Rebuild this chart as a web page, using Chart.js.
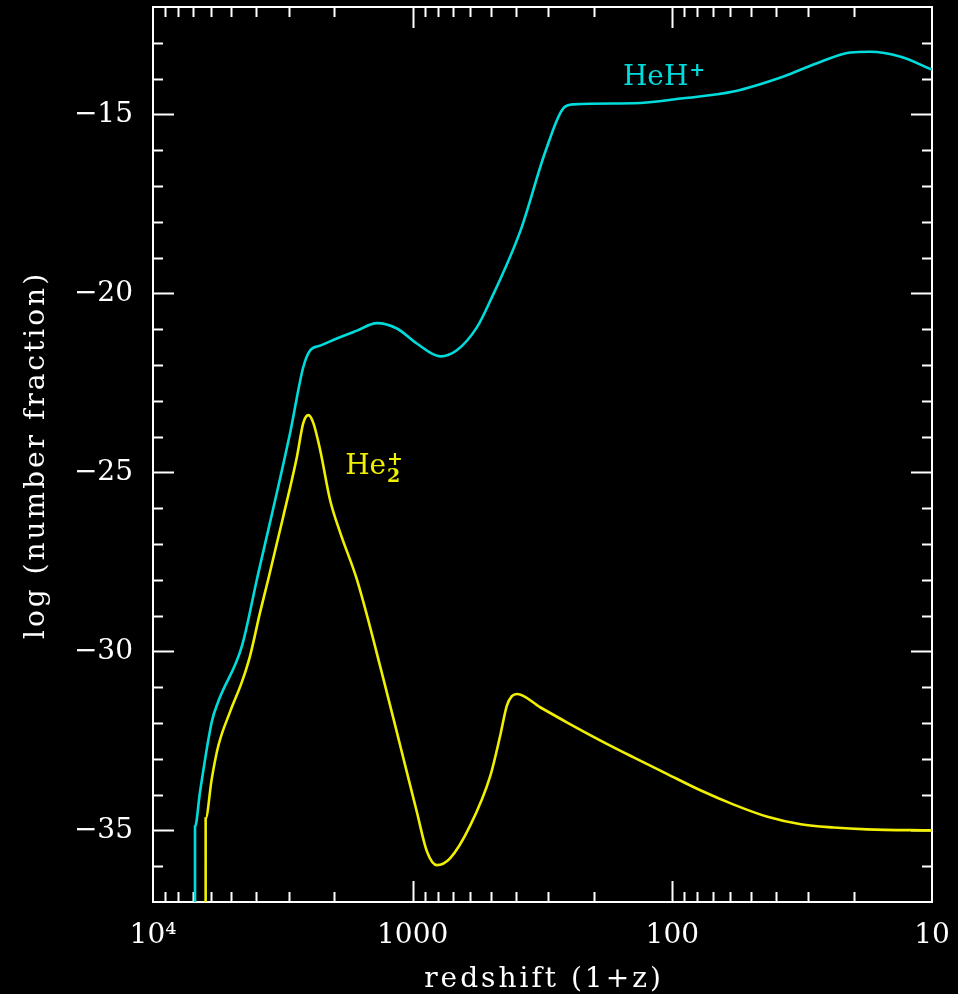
<!DOCTYPE html>
<html>
<head>
<meta charset="utf-8">
<script src="https://cdn.jsdelivr.net/npm/chart.js@4.4.1/dist/chart.umd.min.js"></script>
<style>
  html, body { margin: 0; padding: 0; background: #000; }
  #wrap { width: 958px; height: 994px; }
</style>
</head>
<body>
<div id="wrap"><canvas id="fracChart" width="958" height="994"></canvas></div>
<script>
// HeH+ abundance vs redshift (1+z)
const heHRedshift = [6890, 6890, 6590, 5940, 5620, 4550, 3980, 2965, 2640, 2480,
  2270, 1960, 1640, 1375, 1150, 964, 783, 676, 566, 502,
  385, 308, 263, 240, 141, 90.8, 58.2, 37.3, 27.7, 20.6,
  17.3, 13.2, 10];
const heHLogFrac = [-40, -34.9, -33.92, -31.97, -31.42, -29.86, -27.99, -23.9, -22.07, -21.59,
  -21.46, -21.26, -21.04, -20.83, -20.98, -21.4, -21.76, -21.59, -20.95, -20.2,
  -18.26, -16.03, -14.83, -14.72, -14.69, -14.55, -14.36, -13.94, -13.57, -13.27,
  -13.25, -13.39, -13.75];

// He2+ abundance vs redshift (1+z)
const he2Redshift = [6270, 6270, 5940, 5600, 5050, 4550, 4230, 3870, 3600, 3150,
  2790, 2640, 2520, 2410, 2270, 2080, 1900, 1640, 1295, 1117,
  964, 881, 807, 718, 600, 502, 460, 434, 415, 396,
  323, 255, 189, 141, 105, 78, 58, 43, 32, 23.9,
  17.8, 10];
const he2LogFrac = [-40, -34.67, -33.56, -32.63, -31.69, -30.86, -30.13, -28.91, -27.99, -26.23,
  -24.56, -23.63, -23.4, -23.63, -24.38, -25.77, -26.69, -27.99, -30.78, -32.63,
  -34.48, -35.59, -35.97, -35.78, -34.86, -33.47, -32.35, -31.52, -31.25, -31.19,
  -31.56, -31.98, -32.49, -32.96, -33.42, -33.88, -34.28, -34.62, -34.83, -34.92,
  -34.97, -35.0];

const decadeValues = [10000, 1000, 100, 10];
const decadeLabels = ["10\u2074", "1000", "100", "10"];
const yMajorStep = 5;
const xTitle = "redshift (1+z)";
const yTitle = "log (number fraction)";

const CYAN = "#00dcdc";
const YELLOW = "#f0f000";
const FONT = '"DejaVu Serif", serif';

function toPoints(xs, ys) {
  return xs.map((x, i) => ({ x: x, y: ys[i] }));
}

// every 1..9 multiple of each decade between 10 and 10^4
function logTicks() {
  const out = [];
  for (let d = 1000; d >= 10; d /= 10) {
    for (let m = 10; m >= 1; m--) {
      const v = d * m;
      if (out.length && out[out.length - 1].value === v) continue;
      out.push({ value: v });
    }
  }
  return out;
}

// spaced-out text, centred on x
function spacedText(ctx, text, x, y) {
  ctx.letterSpacing = "3px";
  const w = ctx.measureText(text).width - 3;
  ctx.fillText(text, x - w / 2, y);
  ctx.letterSpacing = "0px";
}

// box and inward ticks on all four sides, under the curves
const frameTicks = {
  id: "frameTicks",
  beforeDatasetsDraw(chart) {
    const { ctx, chartArea: a, scales } = chart;
    const xs = scales.x, ys = scales.y;
    ctx.save();
    ctx.strokeStyle = "#ffffff";
    ctx.lineWidth = 2;
    ctx.beginPath();
    xs.ticks.forEach(t => {
      if (t.value >= 10000 || t.value <= 10) return;
      const px = Math.round(xs.getPixelForValue(t.value)) + 0.5;
      const len = decadeValues.includes(t.value) ? 21 : 10;
      ctx.moveTo(px, a.bottom); ctx.lineTo(px, a.bottom - len);
      ctx.moveTo(px, a.top); ctx.lineTo(px, a.top + len);
    });
    ys.ticks.forEach(t => {
      if (t.value <= ys.min || t.value >= ys.max) return;
      const py = Math.round(ys.getPixelForValue(t.value)) + 0.5;
      const len = t.value % yMajorStep === 0 ? 21 : 10;
      ctx.moveTo(a.left, py); ctx.lineTo(a.left + len, py);
      ctx.moveTo(a.right, py); ctx.lineTo(a.right - len, py);
    });
    ctx.stroke();
    ctx.strokeRect(a.left, a.top, a.right - a.left, a.bottom - a.top);

    ctx.textBaseline = "alphabetic";
    ctx.textAlign = "left";
    ctx.fillStyle = "#ffffff";
    ctx.font = "28px " + FONT;
    spacedText(ctx, xTitle, (a.left + a.right) / 2, 987);
    ctx.save();
    ctx.translate(44, (a.top + a.bottom) / 2 + 2);
    ctx.rotate(-Math.PI / 2);
    spacedText(ctx, yTitle, 0, 0);
    ctx.restore();
    ctx.restore();
  }
};

// species labels next to each curve
const curveLabels = {
  id: "curveLabels",
  afterDatasetsDraw(chart) {
    const { ctx, scales } = chart;
    const xs = scales.x, ys = scales.y;
    ctx.save();
    ctx.textBaseline = "alphabetic";
    ctx.textAlign = "left";

    // HeH+
    let x = xs.getPixelForValue(155), y = ys.getPixelForValue(-14.17);
    ctx.fillStyle = CYAN;
    ctx.font = "28px " + FONT;
    ctx.fillText("HeH", x, y);
    let w = ctx.measureText("HeH").width;
    ctx.font = "bold 19px " + FONT;
    ctx.fillText("+", x + w + 1, y - 9);

    // He2+
    x = xs.getPixelForValue(1820); y = ys.getPixelForValue(-25.04);
    ctx.fillStyle = YELLOW;
    ctx.font = "28px " + FONT;
    ctx.fillText("He", x, y);
    w = ctx.measureText("He").width;
    ctx.font = "bold 19px " + FONT;
    ctx.fillText("+", x + w + 1, y - 9);
    ctx.fillText("2", x + w + 1, y + 8);
    ctx.restore();
  }
};

const ctx = document.getElementById("fracChart");
const fracChart = new Chart(ctx, {
  type: "line",
  data: {
    datasets: [
      {
        label: "HeH+",
        data: toPoints(heHRedshift, heHLogFrac),
        borderColor: CYAN,
        borderWidth: 2.6,
        pointRadius: 0,
        cubicInterpolationMode: "monotone",
        fill: false
      },
      {
        label: "He2+",
        data: toPoints(he2Redshift, he2LogFrac),
        borderColor: YELLOW,
        borderWidth: 2.6,
        pointRadius: 0,
        cubicInterpolationMode: "monotone",
        fill: false
      }
    ]
  },
  options: {
    responsive: false,
    animation: false,
    devicePixelRatio: 1,
    layout: { padding: { top: 7, right: 26, left: 0, bottom: 0 } },
    plugins: {
      legend: { display: false },
      tooltip: { enabled: false }
    },
    scales: {
      x: {
        type: "logarithmic",
        reverse: true,
        min: 10,
        max: 10000,
        afterBuildTicks: (scale) => { scale.ticks = logTicks(); },
        afterFit: (scale) => {
          scale.height = 92;
          scale.paddingLeft = 0;
          scale.paddingRight = 0;
        },
        grid: { display: false, drawTicks: false },
        border: { display: false },
        ticks: {
          autoSkip: false,
          maxRotation: 0,
          padding: 17,
          color: "#ffffff",
          font: { family: FONT, size: 28 },
          callback: (v) => {
            const i = decadeValues.indexOf(v);
            return i >= 0 ? decadeLabels[i] : "";
          }
        }
      },
      y: {
        min: -37,
        max: -12,
        afterFit: (scale) => {
          scale.width = 153;
          scale.paddingTop = 0;
          scale.paddingBottom = 0;
        },
        grid: { display: false, drawTicks: false },
        border: { display: false },
        ticks: {
          stepSize: 1,
          autoSkip: false,
          padding: 20,
          color: "#ffffff",
          font: { family: FONT, size: 28 },
          callback: (v) => v % yMajorStep === 0 ? "\u2212" + Math.abs(v) : ""
        }
      }
    }
  },
  plugins: [frameTicks, curveLabels]
});
</script>
</body>
</html>
